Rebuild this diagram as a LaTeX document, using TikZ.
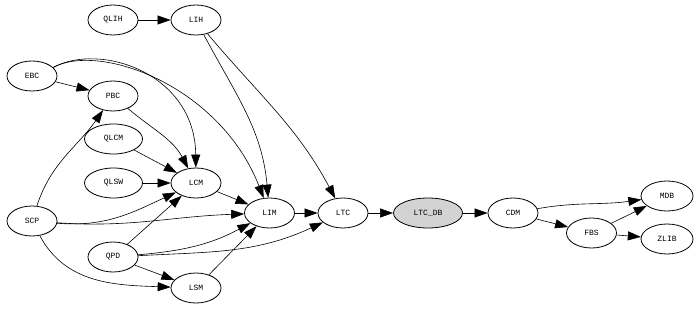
\documentclass[tikz,border=0pt]{standalone}
\usepackage{fontspec}
\setmonofont{Liberation Mono}
\usepackage{tikz}
\usetikzlibrary{shapes.geometric, arrows.meta}
\usetikzlibrary{positioning}
\definecolor{dbgray}{RGB}{211,211,211}
\tikzstyle{module} = [ellipse, draw=black, line width=0.8pt,
    minimum width=50pt, minimum height=30pt, inner sep=0pt,
    font=\ttfamily\fontsize{8}{9}\selectfont]
\tikzstyle{widemod} = [module, minimum width=58pt]
\tikzstyle{dbmod} = [module, minimum width=69pt, fill=dbgray]
\tikzstyle{arrow} = [line width=0.6pt, ->]

\begin{document}
\begin{tikzpicture}[x=1pt, y=1pt, auto, node distance=85pt,
    >={Triangle[length=13pt, width=9pt]}]
    \useasboundingbox (0,0) rectangle (698,308);
    % left column
    \node [module] (qlih) at (113,288) {QLIH};
    \node [module] (lih) at (196,288) {LIH};
    \node [module] (ebc) at (32,232) {EBC};
    \node [module] (pbc) at (113,212) {PBC};
    \node [widemod] (qlcm) at (113.5,169) {QLCM};
    \node [widemod] (qlsw) at (113.5,125) {QLSW};
    \node [module] (lcm) at (196,125) {LCM};
    \node [module] (scp) at (32,87) {SCP};
    \node [module] (qpd) at (113,51) {QPD};
    \node [module] (lsm) at (196,20) {LSM};
    % main chain
    \node [module] (lim) at (269.5,95) {LIM};
    \node [module, right of=lim, node distance=73.5pt] (ltc) {LTC};
    \node [dbmod, right of=ltc] (ltcdb) {LTC\_DB};
    \node [module, right of=ltcdb] (cdm) {CDM};
    % right side
    \node [module] (fbs) at (591.5,75) {FBS};
    \node [module, minimum width=52pt] (mdb) at (667,112) {MDB};
    \node [module, minimum width=52pt] (zlib) at (667,69) {ZLIB};

    \draw [arrow] (qlih) -- (lih);
    \draw [arrow] (lih) to[out=-62, in=95] (lim);
    \draw [arrow] (lih) to[out=-50, in=118] (ltc);
    \draw [arrow] (ebc.22) .. controls (100,266) and (195,235) .. (lcm);
    \draw [arrow] (ebc.22) .. controls (100,266) and (220,222) .. (lim);
    \draw [arrow] (ebc) -- (pbc);
    \draw [arrow] (pbc) to[out=-40, in=118] (lcm);
    \draw [arrow] (qlcm) -- (lcm);
    \draw [arrow] (qlsw) -- (lcm);
    \draw [arrow] (scp) to[out=72, in=235] (pbc);
    \draw [arrow] (scp) to[out=-5, in=205] (lcm);
    \draw [arrow] (scp) to[out=-4, in=182] (lim);
    \draw [arrow] (scp) to[out=-62, in=178] (lsm);
    \draw [arrow] (lcm) -- (lim);
    \draw [arrow] (qpd) -- (lcm);
    \draw [arrow] (qpd) to[out=5, in=208] (lim);
    \draw [arrow] (qpd) to[out=3, in=205] (ltc);
    \draw [arrow] (qpd) -- (lsm);
    \draw [arrow] (lsm) -- (lim);
    \draw [arrow] (lim) -- (ltc);
    \draw [arrow] (ltc) -- (ltcdb);
    \draw [arrow] (ltcdb) -- (cdm);
    \draw [arrow] (cdm) to[out=10, in=188] (mdb);
    \draw [arrow] (cdm) -- (fbs);
    \draw [arrow] (fbs) -- (mdb);
    \draw [arrow] (fbs) -- (zlib);
\end{tikzpicture}
\end{document}
